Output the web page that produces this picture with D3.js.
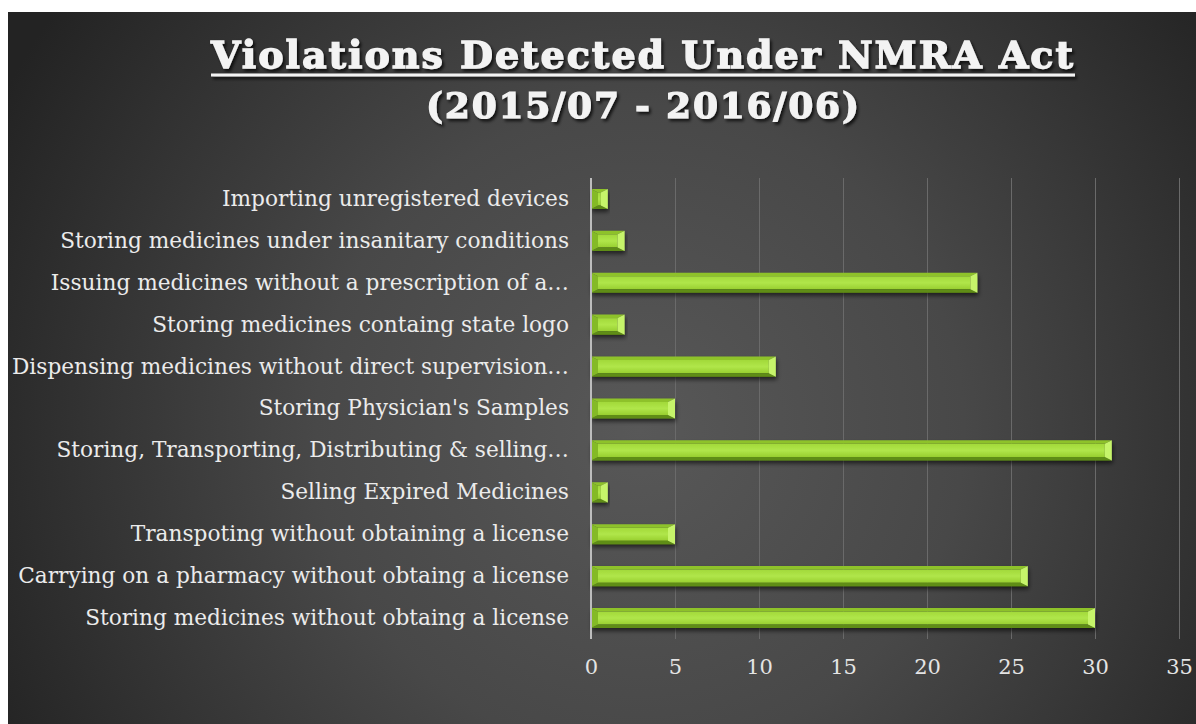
<!DOCTYPE html>
<html>
<head>
  <meta charset="utf-8">
  <style>
    body { margin: 0; background: #fff; }
    svg { display: block; }
  </style>
</head>
<body>
  <svg width="1196" height="724"></svg>
<script src="https://cdn.jsdelivr.net/npm/d3@7"></script>
<script>

// categories, top to bottom as they appear
var categories = [
  "Importing unregistered devices",
  "Storing medicines under insanitary conditions",
  "Issuing medicines without a prescription of a\u2026",
  "Storing medicines containg state logo",
  "Dispensing medicines without direct supervision\u2026",
  "Storing Physician's Samples",
  "Storing, Transporting, Distributing & selling\u2026",
  "Selling Expired Medicines",
  "Transpoting without obtaining a license",
  "Carrying on a pharmacy without obtaing a license",
  "Storing medicines without obtaing a license"
];
var violations = [1, 2, 23, 2, 11, 5, 31, 1, 5, 26, 30];
var tickValues = [0, 5, 10, 15, 20, 25, 30, 35];
var titleLine1 = "Violations Detected Under NMRA Act";
var titleLine2 = "(2015/07 - 2016/06)";

var svg = d3.select("svg");
var defs = svg.append("defs");

// background gradient
var bg = defs.append("radialGradient").attr("id", "bg")
    .attr("gradientUnits", "userSpaceOnUse")
    .attr("cx", 640).attr("cy", 430).attr("r", 720);
bg.append("stop").attr("offset", "0%").attr("stop-color", "#585858");
bg.append("stop").attr("offset", "45%").attr("stop-color", "#484848");
bg.append("stop").attr("offset", "100%").attr("stop-color", "#232323");

var shadow = defs.append("filter").attr("id", "txtshadow")
    .attr("x", "-5%").attr("y", "-20%").attr("width", "110%").attr("height", "150%");
shadow.append("feDropShadow").attr("dx", 2).attr("dy", 2.5).attr("stdDeviation", 1.6)
    .attr("flood-color", "#000").attr("flood-opacity", 0.75);

var barShadow = defs.append("filter").attr("id", "barshadow")
    .attr("x", "-10%").attr("y", "-30%").attr("width", "120%").attr("height", "190%");
barShadow.append("feDropShadow").attr("dx", 1).attr("dy", 3).attr("stdDeviation", 2)
    .attr("flood-color", "#000").attr("flood-opacity", 0.6);

var face = defs.append("linearGradient").attr("id", "face")
    .attr("x1", 0).attr("y1", 0).attr("x2", 0).attr("y2", 1);
face.append("stop").attr("offset", "0%").attr("stop-color", "#a2d93a");
face.append("stop").attr("offset", "50%").attr("stop-color", "#b0e64a");
face.append("stop").attr("offset", "100%").attr("stop-color", "#98cf30");

svg.append("rect").attr("x", 8).attr("y", 12).attr("width", 1188).attr("height", 712)
    .attr("fill", "url(#bg)");

// title
var title = svg.append("g").attr("filter", "url(#txtshadow)")
    .style("font-family", "'DejaVu Serif', serif").style("font-weight", "bold")
    .attr("fill", "#f3f3f3");
title.append("text").attr("x", 211).attr("y", 68)
    .attr("font-size", 38)
    .attr("stroke", "#f3f3f3").attr("stroke-width", 1.3)
    .attr("textLength", 862).attr("lengthAdjust", "spacing")
    .text(titleLine1);
title.append("line").attr("x1", 211).attr("x2", 1075).attr("y1", 75).attr("y2", 75)
    .attr("stroke", "#f3f3f3").attr("stroke-width", 3);
title.append("text").attr("x", 426).attr("y", 118)
    .attr("font-size", 36)
    .attr("stroke", "#f3f3f3").attr("stroke-width", 1.2)
    .attr("textLength", 433).attr("lengthAdjust", "spacing")
    .text(titleLine2);

// scales
var x = d3.scaleLinear().domain([0, 35]).range([591, 1179]);
var y = d3.scaleBand().domain(categories).range([178, 639]).paddingInner(0.52).paddingOuter(0.26);

// gridlines + tick labels
var xAxis = svg.append("g").attr("transform", "translate(0,639)")
    .call(d3.axisBottom(x).tickValues(tickValues).tickSize(-461).tickPadding(20));
xAxis.select(".domain").remove();
xAxis.selectAll(".tick line").attr("stroke", "#6a6a6a").attr("stroke-width", 1);
xAxis.selectAll(".tick text")
    .attr("fill", "#e4e4e4")
    .style("font-family", "'DejaVu Serif', serif")
    .style("font-size", "21px");

// category labels
var yAxis = svg.append("g").attr("transform", "translate(591,0)")
    .call(d3.axisLeft(y).tickSize(0).tickPadding(22));
yAxis.select(".domain").remove();
var labels = yAxis.selectAll(".tick text")
    .attr("fill", "#ebebeb")
    .style("font-family", "'DejaVu Serif', serif")
    .style("font-size", "20px");
// fit the "Carrying on a pharmacy..." line to its width in the picture
var refW = 0;
labels.each(function(d) { if (d === categories[9]) refW = this.getComputedTextLength(); });
labels.style("font-size", (20 * 551 / refW) + "px");

// bars with bevel
var bars = svg.append("g").selectAll("g").data(categories).enter().append("g")
    .attr("filter", "url(#barshadow)");

bars.each(function(d, i) {
  var g = d3.select(this);
  var x0 = x(0), x1 = x(violations[i]);
  var y0 = y(d), h = y.bandwidth(), y1 = y0 + h;
  var bx = Math.min(7, (x1 - x0) / 2), by = 3.5;
  function poly(pts, fill) {
    g.append("polygon").attr("points", pts.map(function(p) { return p.join(","); }).join(" "))
        .attr("fill", fill);
  }
  poly([[x0 + bx, y0 + by], [x1 - bx, y0 + by], [x1 - bx, y1 - by], [x0 + bx, y1 - by]], "url(#face)");
  poly([[x0, y0], [x1, y0], [x1 - bx, y0 + by], [x0 + bx, y0 + by]], "#8ec22c");
  poly([[x0, y1], [x1, y1], [x1 - bx, y1 - by], [x0 + bx, y1 - by]], "#5f8d16");
  poly([[x0, y0], [x0 + bx, y0 + by], [x0 + bx, y1 - by], [x0, y1]], "#84ba25");
  poly([[x1, y0], [x1 - bx, y0 + by], [x1 - bx, y1 - by], [x1, y1]], "#c6f46a");
});

// vertical axis line
svg.append("line").attr("x1", 591).attr("x2", 591).attr("y1", 178).attr("y2", 639)
    .attr("stroke", "#bdbdbd").attr("stroke-width", 2);

</script>
</body>
</html>
